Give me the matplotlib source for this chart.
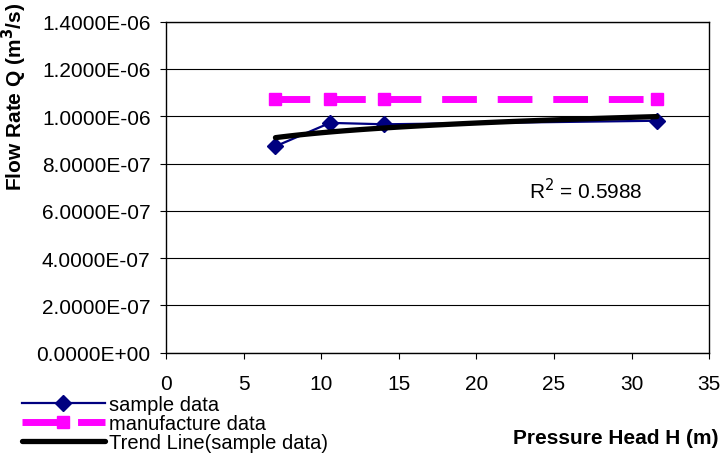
import numpy as np
import matplotlib
matplotlib.use("Agg")
import matplotlib.pyplot as plt
from matplotlib.ticker import FuncFormatter, MultipleLocator

plt.rcParams["font.family"] = ["Liberation Sans", "DejaVu Sans"]

# pressure head (m) and flow rate (m^3/s)
head = [7.03, 10.55, 14.06, 31.64]
q_sample = [8.73e-7, 9.72e-7, 9.66e-7, 9.81e-7]
q_manufacture = [1.073e-6, 1.073e-6, 1.073e-6, 1.073e-6]
r2_text = "R$^2$ = 0.5988"

# logarithmic trend line of the sample data (as Excel does)
b, a = np.polyfit(np.log(head), q_sample, 1)
h_fit = np.linspace(min(head), max(head), 100)
q_fit = a + b * np.log(h_fit)

FS = 15

fig = plt.figure(figsize=(7.22, 4.60), dpi=100)
ax = fig.add_axes([0.2306, 0.2311, 0.9820 - 0.2306, 0.9507 - 0.2311])

ax.plot(head, q_sample, color="#000080", lw=1.6, marker="D", ms=8.5,
        label="sample data", zorder=3)
ax.plot(head, q_manufacture, color="#ff00ff", lw=5, ls=(0, (5, 3)),
        marker="s", ms=9, label="manufacture data", zorder=2)
ax.plot(h_fit, q_fit, color="black", lw=3.8, solid_capstyle="round",
        label="Trend Line(sample data)", zorder=4)

ax.set_xlim(0, 35)
ax.set_ylim(0, 1.4e-6)
ax.xaxis.set_major_locator(MultipleLocator(5))
ax.yaxis.set_major_locator(MultipleLocator(2e-7))
ax.yaxis.set_major_formatter(FuncFormatter(lambda v, p: f"{v:.4E}"))
ax.grid(axis="y", color="black", lw=0.8)
ax.set_axisbelow(True)
for s in ax.spines.values():
    s.set_linewidth(1.0)
ax.tick_params(axis="y", direction="out", length=4.5, pad=7, labelsize=FS)
ax.tick_params(axis="x", direction="out", length=4.5, pad=11, labelsize=FS)

ax.text(23.4, 6.9e-7, r2_text, fontsize=FS, va="center")

fig.text(14 / 722, 1 - 97 / 460, "Flow Rate Q (m$^\\mathbf{3}$/s)", rotation=90,
         ha="center", va="center", fontsize=FS, fontweight="bold")
fig.text(616 / 722, 1 - 438 / 460, "Pressure Head H (m)", ha="center",
         va="center", fontsize=FS, fontweight="bold")

fig.legend(loc="upper left", bbox_to_anchor=(22 / 722, 1 - 396 / 460),
           frameon=False, fontsize=14.5, handlelength=4.1, handletextpad=0.22,
           labelspacing=0.0, borderaxespad=0, borderpad=0)

fig.savefig("out.png", dpi=100)
